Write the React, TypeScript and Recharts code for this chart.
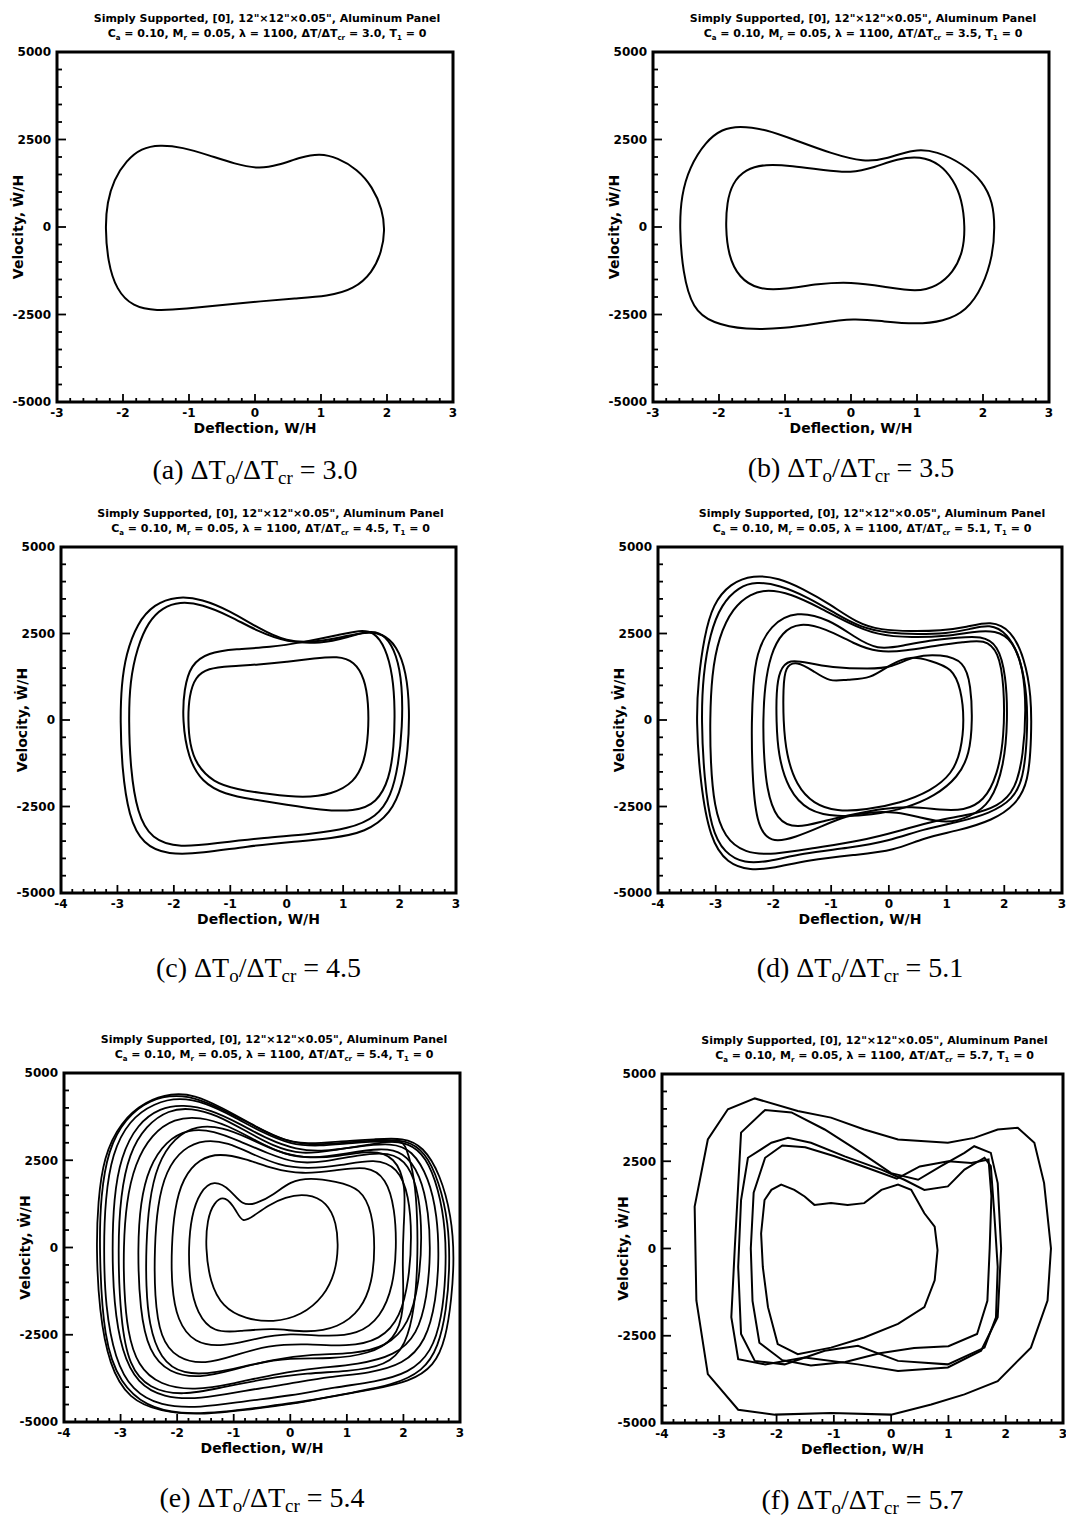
import React from "react";
import { LineChart, Line, XAxis, YAxis, ReferenceArea, Label } from "recharts";

type Pair = [number, number];

// tick labels
const xTicks3 = [-3, -2, -1, 0, 1, 2, 3];
const xTicks4 = [-4, -3, -2, -1, 0, 1, 2, 3];
const yTicks = [-5000, -2500, 0, 2500, 5000];

// (a) dT/dTcr = 3.0
const loopA1: Pair[] = [
  [-2.27, 0], [-2.24, 700], [-2.14, 1350], [-1.95, 1900], [-1.72, 2250], [-1.45, 2350], [-1.1, 2280],
  [-0.7, 2050], [-0.3, 1800], [0.05, 1660], [0.35, 1760], [0.7, 2000], [0.98, 2100], [1.25, 1980],
  [1.55, 1650], [1.78, 1150], [1.93, 500], [1.97, -100], [1.92, -700], [1.78, -1300], [1.5, -1780],
  [1.1, -1980], [0.6, -2040], [0.1, -2120], [-0.5, -2230], [-1.05, -2340], [-1.5, -2400], [-1.85, -2280],
  [-2.1, -1800], [-2.23, -1000],
];

// (b) 3.5
const loopB1: Pair[] = [
  [-2.6, 0], [-2.57, 900], [-2.45, 1700], [-2.2, 2450], [-1.95, 2800], [-1.7, 2890], [-1.3, 2800],
  [-0.8, 2450], [-0.3, 2100], [0.2, 1850], [0.55, 1950], [0.95, 2230], [1.3, 2170], [1.7, 1800],
  [2.0, 1300], [2.15, 700], [2.18, 0], [2.15, -800], [2.0, -1700], [1.75, -2400], [1.4, -2700],
  [0.98, -2780], [0.5, -2700], [0.05, -2600], [-0.5, -2750], [-1.0, -2900], [-1.6, -2940], [-2.1, -2750],
  [-2.4, -2350], [-2.55, -1300],
];
const loopB2: Pair[] = [
  [-1.9, 0], [-1.88, 700], [-1.8, 1250], [-1.6, 1650], [-1.3, 1800], [-0.9, 1750], [-0.4, 1620],
  [0.0, 1540], [0.35, 1700], [0.7, 1950], [1.05, 2030], [1.35, 1800], [1.55, 1350], [1.68, 800],
  [1.73, 0], [1.7, -700], [1.55, -1300], [1.3, -1700], [1.0, -1860], [0.5, -1700], [0.0, -1570],
  [-0.5, -1620], [-1.0, -1780], [-1.4, -1800], [-1.7, -1450], [-1.86, -800],
];

// (c) 4.5
const loopC1: Pair[] = [
  [-2.95, 0], [-2.93, 1000], [-2.85, 1900], [-2.65, 2800], [-2.35, 3350], [-1.95, 3580], [-1.5, 3500],
  [-1.0, 3150], [-0.5, 2650], [0, 2250], [0.5, 2250], [1.0, 2400], [1.4, 2550], [1.7, 2500],
  [1.95, 2150], [2.12, 1400], [2.18, 300], [2.15, -900], [2.05, -1900], [1.85, -2700], [1.4, -3250],
  [0.8, -3420], [0.1, -3520], [-0.7, -3650], [-1.5, -3850], [-2.1, -3900], [-2.55, -3600], [-2.8, -2800],
  [-2.92, -1400],
];
const loopC2: Pair[] = [
  [-2.8, 0], [-2.78, 1100], [-2.65, 2100], [-2.45, 2850], [-2.2, 3250], [-1.9, 3420], [-1.5, 3350],
  [-1.0, 3000], [-0.5, 2550], [0, 2250], [0.6, 2200], [1.1, 2400], [1.5, 2600], [1.75, 2450],
  [1.95, 1900], [2.05, 1000], [2.05, -200], [1.98, -1300], [1.85, -2200], [1.6, -2800], [1.1, -3150],
  [0.4, -3300], [-0.4, -3400], [-1.2, -3550], [-1.9, -3700], [-2.4, -3450], [-2.65, -2700], [-2.77, -1400],
];
const loopC3: Pair[] = [
  [-1.75, 0], [-1.73, 700], [-1.62, 1250], [-1.4, 1500], [-1.0, 1560], [-0.5, 1600], [0, 1680],
  [0.5, 1780], [0.9, 1850], [1.2, 1700], [1.38, 1200], [1.45, 500], [1.45, -400], [1.38, -1200],
  [1.2, -1800], [0.8, -2150], [0.3, -2250], [-0.3, -2150], [-0.9, -2000], [-1.3, -1800], [-1.6, -1300],
  [-1.72, -700],
];
const loopC4: Pair[] = [
  [-1.85, 0], [-1.82, 900], [-1.7, 1600], [-1.4, 1950], [-0.9, 2050], [-0.3, 2100], [0.3, 2250],
  [0.9, 2450], [1.3, 2600], [1.55, 2550], [1.75, 2100], [1.88, 1300], [1.92, 300], [1.9, -800],
  [1.82, -1700], [1.6, -2400], [1.2, -2650], [0.6, -2600], [0.0, -2450], [-0.6, -2300], [-1.1, -2150],
  [-1.5, -1800], [-1.75, -1100],
];

// (d) 5.1
const loopD1: Pair[] = [
  [-3.34, 0], [-3.3, 1200], [-3.2, 2400], [-3.05, 3350], [-2.75, 3950], [-2.35, 4200], [-1.9, 4100],
  [-1.5, 3800], [-1.02, 3350], [-0.55, 2800], [-0.15, 2600], [0.4, 2560], [0.9, 2580], [1.35, 2680],
  [1.77, 2870], [2.12, 2600], [2.35, 1800], [2.47, 700], [2.47, -500], [2.42, -1800], [2.2, -2450],
  [1.8, -2900], [1.2, -3200], [0.6, -3400], [0.1, -3780], [-0.6, -3900], [-1.4, -4050], [-2.0, -4280],
  [-2.4, -4350], [-2.8, -4150], [-3.1, -3450], [-3.27, -1800],
];
const loopD2: Pair[] = [
  [-3.25, 0], [-3.22, 1300], [-3.1, 2500], [-2.9, 3350], [-2.6, 3850], [-2.3, 4000], [-1.9, 3900],
  [-1.4, 3550], [-0.9, 3050], [-0.5, 2680], [0, 2500], [0.5, 2480], [1.0, 2500], [1.4, 2620],
  [1.75, 2780], [2.05, 2520], [2.28, 1800], [2.4, 700], [2.4, -500], [2.33, -1700], [2.15, -2300],
  [1.75, -2700], [1.2, -2950], [0.6, -3150], [0, -3500], [-0.7, -3700], [-1.5, -3850], [-2.1, -4100],
  [-2.5, -4150], [-2.85, -3850], [-3.08, -3150], [-3.2, -1700],
];
const loopD3: Pair[] = [
  [-3.1, 0], [-3.07, 1300], [-2.95, 2400], [-2.7, 3250], [-2.4, 3650], [-2.1, 3780], [-1.7, 3650],
  [-1.2, 3250], [-0.7, 2800], [-0.2, 2450], [0.4, 2380], [1.0, 2420], [1.45, 2550], [1.85, 2600],
  [2.15, 2300], [2.33, 1500], [2.38, 300], [2.33, -1000], [2.2, -2000], [1.9, -2500], [1.4, -2750],
  [0.8, -2900], [0.2, -3200], [-0.5, -3500], [-1.3, -3700], [-2.0, -3900], [-2.5, -3850], [-2.85, -3400],
  [-3.03, -2500], [-3.09, -1200],
];
const loopD4: Pair[] = [
  [-2.38, 0], [-2.35, 1000], [-2.3, 1900], [-2.06, 2750], [-1.6, 3170], [-1.02, 2900], [-0.6, 2400],
  [-0.2, 2020], [0.25, 2150], [0.7, 2300], [1.2, 2380], [1.6, 2430], [1.89, 2190], [2.03, 1300],
  [2.06, 0], [2.0, -1300], [1.77, -2420], [1.4, -2800], [1.02, -3000], [0.5, -2800], [0.15, -2660],
  [-0.3, -2650], [-0.73, -2760], [-1.2, -3100], [-1.6, -3380], [-2.06, -3580], [-2.3, -3000], [-2.37, -1500],
];
const loopD5: Pair[] = [
  [-2.18, 0], [-2.15, 1000], [-2.05, 1900], [-1.85, 2550], [-1.55, 2820], [-1.1, 2650], [-0.6, 2200],
  [-0.2, 1950], [0.3, 2000], [0.8, 2150], [1.3, 2250], [1.65, 2330], [1.9, 2000], [2.0, 1000],
  [2.0, -500], [1.88, -1600], [1.65, -2350], [1.3, -2620], [0.9, -2600], [0.4, -2500], [-0.1, -2550],
  [-0.6, -2720], [-1.1, -2900], [-1.6, -3150], [-1.95, -2900], [-2.12, -2000], [-2.17, -900],
];
const loopD6: Pair[] = [
  [-1.83, 0], [-1.83, 900], [-1.8, 1550], [-1.6, 1710], [-1.31, 1420], [-1.02, 1090], [-0.73, 1180],
  [-0.32, 1180], [0.03, 1620], [0.38, 1860], [0.73, 1710], [1.1, 1500], [1.25, 900], [1.31, 0],
  [1.25, -900], [1.1, -1550], [0.73, -2050], [0.2, -2400], [-0.4, -2600], [-0.9, -2650], [-1.31, -2420],
  [-1.6, -1900], [-1.78, -1000],
];
const loopD7: Pair[] = [
  [-1.95, 0], [-1.95, 800], [-1.9, 1450], [-1.72, 1760], [-1.4, 1650], [-1.02, 1520], [-0.32, 1470],
  [0.05, 1520], [0.44, 1860], [0.9, 1900], [1.31, 1710], [1.42, 1000], [1.45, 0], [1.4, -1000],
  [1.2, -1650], [0.8, -2200], [0.3, -2550], [-0.3, -2750], [-0.9, -2800], [-1.4, -2650], [-1.75, -2000],
  [-1.92, -1000],
];

// (e) 5.4
const loopE1: Pair[] = [
  [-3.43, 0], [-3.4, 1300], [-3.3, 2600], [-3.0, 3600], [-2.55, 4200], [-2.1, 4420], [-1.7, 4380],
  [-1.2, 4000], [-0.7, 3550], [-0.2, 3100], [0.3, 2950], [0.9, 3050], [1.5, 3100], [2.0, 3150],
  [2.35, 2900], [2.65, 2100], [2.85, 900], [2.9, -300], [2.85, -1500], [2.75, -2600], [2.55, -3400],
  [2.1, -3850], [1.5, -4050], [0.8, -4250], [0, -4500], [-0.8, -4650], [-1.6, -4800], [-2.3, -4700],
  [-2.85, -4350], [-3.2, -3400], [-3.38, -1800],
];
const loopE2: Pair[] = [
  [-3.3, 0], [-3.27, 1400], [-3.15, 2700], [-2.85, 3650], [-2.4, 4150], [-1.95, 4300], [-1.5, 4150],
  [-1.0, 3750], [-0.5, 3300], [0, 2950], [0.5, 2900], [1.1, 3000], [1.7, 3050], [2.1, 3000],
  [2.4, 2600], [2.62, 1700], [2.75, 500], [2.75, -800], [2.68, -2000], [2.5, -3000], [2.1, -3600],
  [1.5, -3850], [0.8, -4000], [0, -4250], [-0.8, -4400], [-1.6, -4600], [-2.3, -4550], [-2.8, -4100],
  [-3.1, -3200], [-3.27, -1700],
];
const loopE3: Pair[] = [
  [-3.15, 0], [-3.12, 1400], [-3.0, 2600], [-2.7, 3550], [-2.3, 4000], [-1.9, 4100], [-1.4, 3950],
  [-0.9, 3550], [-0.4, 3100], [0.1, 2800], [0.6, 2750], [1.2, 2900], [1.8, 3000], [2.15, 2800],
  [2.45, 2000], [2.6, 900], [2.63, -300], [2.58, -1500], [2.4, -2700], [2.0, -3350], [1.4, -3600],
  [0.7, -3700], [0, -3900], [-0.8, -4100], [-1.6, -4350], [-2.25, -4300], [-2.7, -3900], [-2.98, -3000],
  [-3.12, -1600],
];
const loopE4: Pair[] = [
  [-3.05, 0], [-3.0, 1500], [-2.85, 2700], [-2.55, 3500], [-2.15, 3950], [-1.75, 4000], [-1.3, 3800],
  [-0.8, 3350], [-0.3, 2900], [0.2, 2650], [0.8, 2800], [1.4, 2950], [1.95, 3100], [2.05, 2900],
  [2.2, 2000], [2.25, 800], [2.25, -500], [2.2, -1700], [2.05, -2800], [1.7, -3400], [1.0, -3550],
  [0.3, -3600], [-0.4, -3750], [-1.2, -4000], [-1.9, -4250], [-2.5, -4050], [-2.85, -3400], [-3.0, -2100],
];
const loopE5: Pair[] = [
  [-2.95, 0], [-2.9, 1300], [-2.75, 2400], [-2.45, 3250], [-2.05, 3700], [-1.6, 3750], [-1.1, 3500],
  [-0.6, 3050], [-0.1, 2650], [0.4, 2550], [1.0, 2700], [1.6, 2850], [2.0, 2750], [2.3, 2100],
  [2.45, 1000], [2.48, -200], [2.42, -1400], [2.25, -2500], [1.85, -3100], [1.2, -3350], [0.5, -3450],
  [-0.2, -3600], [-1.0, -3900], [-1.7, -4100], [-2.3, -3950], [-2.7, -3400], [-2.88, -2400], [-2.94, -1200],
];
const loopE6: Pair[] = [
  [-2.7, 0], [-2.65, 1300], [-2.5, 2300], [-2.2, 3050], [-1.8, 3400], [-1.35, 3350], [-0.9, 3050],
  [-0.4, 2700], [0.1, 2400], [0.6, 2450], [1.2, 2650], [1.75, 2750], [2.1, 2400], [2.28, 1500],
  [2.33, 300], [2.28, -1000], [2.1, -2200], [1.7, -2850], [1.1, -3050], [0.4, -3050], [-0.3, -3200],
  [-1.0, -3500], [-1.6, -3750], [-2.15, -3600], [-2.5, -3000], [-2.66, -1800],
];
const loopE7: Pair[] = [
  [-2.55, 0], [-2.5, 1300], [-2.35, 2400], [-2.05, 3150], [-1.65, 3500], [-1.2, 3450], [-0.75, 3150],
  [-0.25, 2750], [0.25, 2550], [0.85, 2600], [1.45, 2800], [1.85, 2600], [2.05, 1800], [2.0, 600],
  [1.98, -600], [2.02, -1800], [1.85, -2650], [1.4, -3050], [0.7, -3200], [0, -3150], [-0.7, -3350],
  [-1.3, -3600], [-1.9, -3650], [-2.3, -3200], [-2.5, -2200], [-2.55, -1100],
];
const loopE8: Pair[] = [
  [-2.4, 0], [-2.35, 1200], [-2.2, 2200], [-1.9, 2850], [-1.5, 3100], [-1.1, 3000], [-0.7, 2700],
  [-0.2, 2350], [0.3, 2250], [0.9, 2350], [1.5, 2550], [1.9, 2300], [2.1, 1500], [2.15, 300],
  [2.1, -900], [1.95, -2000], [1.6, -2650], [1.0, -2850], [0.3, -2750], [-0.4, -2800], [-1.0, -3100],
  [-1.5, -3350], [-2.0, -3200], [-2.3, -2600], [-2.4, -1400],
];
const loopE9: Pair[] = [
  [-2.1, 0], [-2.05, 1100], [-1.9, 2000], [-1.6, 2550], [-1.25, 2700], [-0.8, 2550], [-0.3, 2250],
  [0.2, 2100], [0.8, 2200], [1.35, 2350], [1.7, 2000], [1.85, 1100], [1.88, 0], [1.82, -1100],
  [1.6, -2000], [1.2, -2500], [0.6, -2550], [0, -2450], [-0.6, -2600], [-1.2, -2850], [-1.7, -2750],
  [-2.0, -2100], [-2.1, -1100],
];
const loopE10: Pair[] = [
  [-1.8, 0], [-1.75, 900], [-1.6, 1600], [-1.35, 1950], [-1.05, 1650], [-0.85, 1200], [-0.6, 1250],
  [-0.3, 1500], [0, 1900], [0.35, 2000], [0.8, 1900], [1.25, 1700], [1.45, 1000], [1.5, 0],
  [1.45, -1000], [1.25, -1800], [0.85, -2300], [0.3, -2450], [-0.3, -2300], [-0.9, -2400], [-1.35, -2450],
  [-1.65, -1900], [-1.78, -1000],
];
const loopE11: Pair[] = [
  [-1.5, 0], [-1.47, 800], [-1.35, 1300], [-1.15, 1500], [-0.95, 1050], [-0.85, 700], [-0.65, 900],
  [-0.4, 1200], [-0.1, 1450], [0.3, 1550], [0.65, 1300], [0.82, 700], [0.85, 0], [0.8, -700],
  [0.6, -1400], [0.2, -1950], [-0.3, -2150], [-0.8, -2050], [-1.2, -1700], [-1.42, -1000],
];
const loopE12: Pair[] = [
  [-3.38, 0], [-3.35, 1500], [-3.22, 2800], [-2.92, 3700], [-2.48, 4250], [-2.0, 4380], [-1.6, 4250],
  [-1.1, 3880], [-0.6, 3450], [-0.1, 3050], [0.4, 2920], [1.0, 3020], [1.6, 3080], [2.05, 3080],
  [2.38, 2750], [2.63, 1900], [2.8, 700], [2.82, -600], [2.76, -1800], [2.62, -2850], [2.35, -3550],
  [1.8, -3950], [1.1, -4150], [0.4, -4380], [-0.4, -4550], [-1.2, -4720], [-1.95, -4780], [-2.55, -4550],
  [-3.0, -3900], [-3.3, -2700],
];

// (f) 5.7
const loopF1: Pair[] = [
  [-3.43, 1200], [-3.4, -1490], [-3.2, -3600], [-2.67, -4620], [-2.03, -4760], [-1.05, -4710], [0, -4760],
  [0.7, -4470], [1.28, -4180], [1.86, -3800], [2.44, -2840], [2.73, -1490], [2.79, 0], [2.67, 1875],
  [2.5, 3030], [2.21, 3460], [1.86, 3410], [1.45, 3170], [0.99, 3030], [0.12, 3125], [-0.47, 3410],
  [-1.05, 3750], [-1.63, 3940], [-2.38, 4300], [-2.85, 3990], [-3.2, 3125],
];
const loopF2: Pair[] = [
  [-2.73, 0], [-2.62, 3320], [-2.2, 3970], [-1.74, 3900], [-1.16, 3410], [-0.52, 2740], [0, 2160],
  [0.47, 1970], [0.87, 2360], [1.28, 2740], [1.45, 2930], [1.74, 2740], [1.86, 1875], [1.92, 0],
  [1.86, -1970], [1.57, -2930], [0.99, -3410], [0.12, -3510], [-0.58, -3320], [-1.51, -3125],
  [-2.2, -3320], [-2.67, -3170], [-2.79, -1970],
];
const loopF3: Pair[] = [
  [-2.5, 2600], [-2.09, 3030], [-1.8, 3170], [-1.4, 3030], [-0.81, 2640], [-0.17, 2260], [0.23, 1970],
  [0.58, 1680], [0.99, 1780], [1.28, 2260], [1.63, 2600], [1.74, 2360], [1.8, 1010], [1.86, -530],
  [1.83, -1970], [1.63, -2840], [0.99, -3320], [0.12, -3220], [-0.58, -2790], [-1.16, -2930],
  [-1.86, -3320], [-2.38, -3220], [-2.62, -2450], [-2.67, -530], [-2.62, 1390],
];
const loopF4: Pair[] = [
  [-2.27, 430], [-2.21, 1390], [-2.09, 1680], [-1.92, 1830], [-1.69, 1680], [-1.51, 1490], [-1.34, 1250],
  [-1.05, 1300], [-0.76, 1250], [-0.47, 1300], [-0.17, 1680], [0.12, 1830], [0.35, 1680], [0.58, 1010],
  [0.76, 625], [0.81, -50], [0.76, -910], [0.58, -1680], [0.12, -2160], [-0.47, -2550], [-1.05, -2840],
  [-1.63, -3030], [-1.98, -2740], [-2.15, -1680], [-2.24, -530],
];
const loopF5: Pair[] = [
  [-2.45, 0], [-2.4, 1600], [-2.2, 2600], [-1.9, 2950], [-1.5, 2900], [-1.0, 2650], [-0.4, 2300],
  [0.1, 2000], [0.5, 2350], [1.0, 2500], [1.4, 2450], [1.7, 2550], [1.75, 1500], [1.72, 0],
  [1.68, -1500], [1.5, -2450], [1.0, -2800], [0.4, -2850], [-0.2, -3000], [-0.8, -3250], [-1.4, -3350],
  [-1.9, -3200], [-2.3, -2700], [-2.42, -1500],
];

const subdivide = (major: number[], n: number) => {
  const out: number[] = [];
  for (let i = 0; i < major.length - 1; i++) {
    for (let k = 0; k < n; k++) out.push(major[i] + ((major[i + 1] - major[i]) * k) / n);
  }
  out.push(major[major.length - 1]);
  return out;
};

const isMajor = (v: number, majors: number[]) => majors.some((m) => Math.abs(m - v) < 1e-6);
const toPts = (loop: Pair[]) => loop.map(([x, y]) => ({ x, y }));

const sans = "'DejaVu Sans', sans-serif";
const tickFont = { fontFamily: sans, fontWeight: 700, fontSize: 12 };

const panels = [
  { tag: "a", ratio: "3.0", left: 57, top: 52, w: 396, h: 350, cap: 470, xt: xTicks3, loops: [loopA1], curve: "basisClosed", sw: 2 },
  { tag: "b", ratio: "3.5", left: 653, top: 52, w: 396, h: 350, cap: 468, xt: xTicks3, loops: [loopB1, loopB2], curve: "basisClosed", sw: 2 },
  { tag: "c", ratio: "4.5", left: 61, top: 547, w: 395, h: 346, cap: 968, xt: xTicks4, loops: [loopC1, loopC2, loopC3, loopC4], curve: "basisClosed", sw: 2 },
  { tag: "d", ratio: "5.1", left: 658, top: 547, w: 404, h: 346, cap: 968, xt: xTicks4, loops: [loopD1, loopD2, loopD3, loopD4, loopD5, loopD6, loopD7], curve: "basisClosed", sw: 2 },
  {
    tag: "e", ratio: "5.4", left: 64, top: 1073, w: 396, h: 349, cap: 1498, xt: xTicks4,
    loops: [loopE1, loopE12, loopE2, loopE3, loopE4, loopE5, loopE6, loopE7, loopE8, loopE9, loopE10, loopE11],
    curve: "basisClosed", sw: 1.8,
  },
  { tag: "f", ratio: "5.7", left: 662, top: 1074, w: 401, h: 349, cap: 1500, xt: xTicks4, loops: [loopF1, loopF2, loopF3, loopF4, loopF5], curve: "linearClosed", sw: 2 },
];

const TOP = 14;

function Panel({ p }: { p: (typeof panels)[number] }) {
  const xMin = p.xt[0];
  const xMax = p.xt[p.xt.length - 1];
  const xAll = subdivide(p.xt, 5);
  const yAll = subdivide(yTicks, 5);
  const cx = p.left + p.w / 2;

  const XTick = (props: any) => {
    const { x, y, payload } = props;
    const major = isMajor(payload.value, p.xt);
    return (
      <g>
        <line x1={x} x2={x} y1={y} y2={y - (major ? 8 : 4)} stroke="#000" strokeWidth={1.8} />
        {major && (
          <text x={x} y={y + 15} textAnchor="middle" {...tickFont} fill="#000">
            {String(Math.round(payload.value))}
          </text>
        )}
      </g>
    );
  };
  const YTick = (props: any) => {
    const { x, y, payload } = props;
    const major = isMajor(payload.value, yTicks);
    return (
      <g>
        <line x1={x} x2={x + (major ? 9 : 5)} y1={y} y2={y} stroke="#000" strokeWidth={1.8} />
        {major && (
          <text x={x - 6} y={y} dy="0.36em" textAnchor="end" {...tickFont} fill="#000">
            {String(Math.round(payload.value))}
          </text>
        )}
      </g>
    );
  };

  return (
    <>
      <div
        style={{
          position: "absolute",
          left: cx - 260 + 12,
          top: p.top - 41,
          width: 520,
          textAlign: "center",
          fontFamily: sans,
          fontWeight: 700,
          fontSize: 11,
          lineHeight: "15px",
          whiteSpace: "nowrap",
        }}
      >
        <div>Simply Supported, [0], 12"×12"×0.05", Aluminum Panel</div>
        <div>
          C<sub style={{ fontSize: 7 }}>a</sub> = 0.10, M<sub style={{ fontSize: 7 }}>r</sub> = 0.05, λ = 1100, ΔT/ΔT
          <sub style={{ fontSize: 7 }}>cr</sub> = {p.ratio}, T<sub style={{ fontSize: 7 }}>1</sub> = 0
        </div>
      </div>
      <div style={{ position: "absolute", left: p.left - 62, top: p.top - TOP }}>
        <LineChart width={62 + p.w + 8} height={TOP + p.h + 42} margin={{ top: TOP, right: 8, left: 0, bottom: 0 }}>
          <XAxis
            type="number"
            dataKey="x"
            domain={[xMin, xMax]}
            allowDataOverflow
            ticks={xAll}
            interval={0}
            tickSize={0}
            tickMargin={0}
            axisLine={false}
            tickLine={false}
            tick={XTick}
            height={42}
          >
            <Label
              value="Deflection, W/H"
              position="insideBottom"
              offset={11}
              style={{ fontFamily: sans, fontWeight: 700, fontSize: 14, fill: "#000" }}
            />
          </XAxis>
          <YAxis
            type="number"
            domain={[-5000, 5000]}
            allowDataOverflow
            ticks={yAll}
            interval={0}
            tickSize={0}
            tickMargin={0}
            axisLine={false}
            tickLine={false}
            tick={YTick}
            width={62}
          >
            <Label
              value="Velocity, Ẇ/H"
              angle={-90}
              position="insideLeft"
              offset={23}
              style={{ textAnchor: "middle", fontFamily: sans, fontWeight: 700, fontSize: 14, fill: "#000" }}
            />
          </YAxis>
          <ReferenceArea x1={xMin} x2={xMax} y1={-5000} y2={5000} fill="none" fillOpacity={0} stroke="#000" strokeWidth={3} />
          {p.loops.map((loop, i) => (
            <Line
              key={i}
              data={toPts(loop)}
              dataKey="y"
              type={p.curve as any}
              stroke="#000"
              strokeWidth={p.sw}
              dot={false}
              activeDot={false}
              isAnimationActive={false}
            />
          ))}
        </LineChart>
      </div>
      <div
        style={{
          position: "absolute",
          left: cx - 200,
          top: p.cap - 17,
          width: 400,
          textAlign: "center",
          fontFamily: "'Liberation Serif', 'Times New Roman', serif",
          fontSize: 28,
          lineHeight: "34px",
          whiteSpace: "nowrap",
        }}
      >
        ({p.tag}) ΔT<span style={{ fontSize: 19, verticalAlign: "-0.25em" }}>o</span>/ΔT
        <span style={{ fontSize: 19, verticalAlign: "-0.25em" }}>cr</span> = {p.ratio}
      </div>
    </>
  );
}

export default function App() {
  return (
    <div style={{ position: "absolute", left: 0, top: 0, width: 1066, height: 1515, background: "#fff" }}>
      {panels.map((p) => (
        <Panel key={p.tag} p={p} />
      ))}
    </div>
  );
}
